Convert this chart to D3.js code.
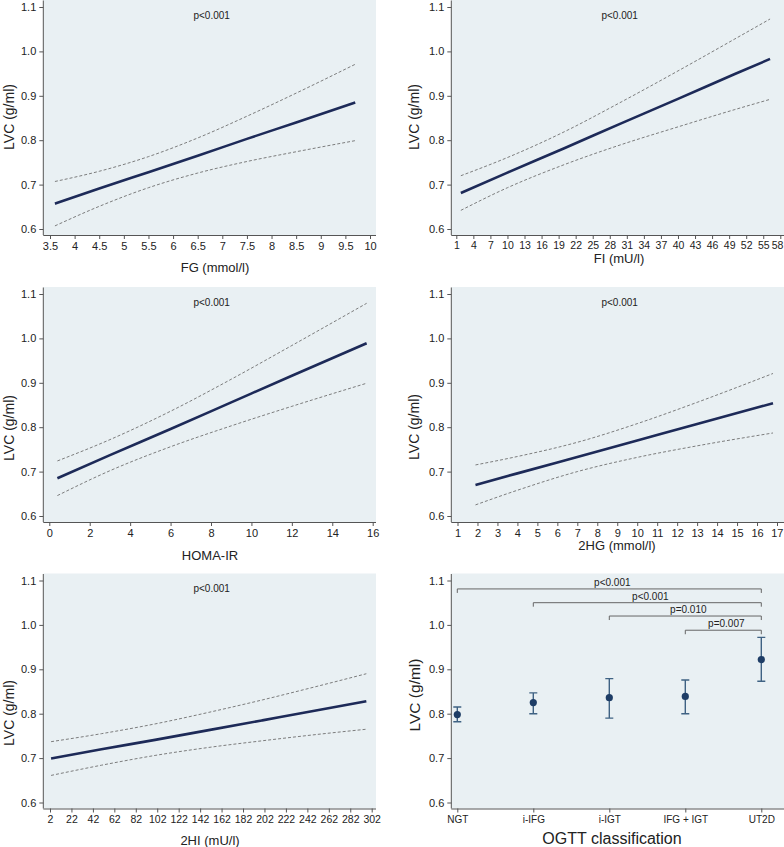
<!DOCTYPE html>
<html>
<head>
<meta charset="utf-8">
<script src="https://cdn.jsdelivr.net/npm/d3@7"></script>
<style>
html,body{margin:0;padding:0;background:#fff;}
svg{display:block;font-family:"Liberation Sans",Arial,sans-serif;}
</style>
</head>
<body>
<svg id="chart" width="784" height="847"></svg>
<script>
// ---------- DATA ----------
const yTicks = [0.6, 0.7, 0.8, 0.9, 1.0, 1.1];

// Panel A: FG (mmol/l)
const fgTicks = [3.5, 4, 4.5, 5, 5.5, 6, 6.5, 7, 7.5, 8, 8.5, 9, 9.5, 10];
const fgX     = [3.6, 4.5, 5.5, 6.5, 7.5, 8.5, 9.7];
const fgFit   = [0.657, 0.691, 0.728, 0.765, 0.803, 0.840, 0.885];
const fgUpper = [0.707, 0.730, 0.763, 0.805, 0.854, 0.906, 0.971];
const fgLower = [0.607, 0.651, 0.693, 0.726, 0.752, 0.774, 0.799];

// Panel B: FI (mU/l)
const fiTicks = [1, 4, 7, 10, 13, 16, 19, 22, 25, 28, 31, 34, 37, 40, 43, 46, 49, 52, 55, 58];
const fiX     = [1.8, 10, 20, 30, 40, 50, 56.2];
const fiFit   = [0.681, 0.727, 0.782, 0.838, 0.893, 0.949, 0.983];
const fiUpper = [0.720, 0.761, 0.819, 0.886, 0.956, 1.028, 1.073];
const fiLower = [0.642, 0.693, 0.745, 0.790, 0.830, 0.869, 0.892];

// Panel C: HOMA-IR
const homaTicks = [0, 2, 4, 6, 8, 10, 12, 14, 16];
const homaX     = [0.4, 3, 6, 9, 12, 15.7];
const homaFit   = [0.685, 0.737, 0.796, 0.856, 0.916, 0.989];
const homaUpper = [0.724, 0.772, 0.836, 0.908, 0.984, 1.079];
const homaLower = [0.646, 0.702, 0.756, 0.803, 0.847, 0.899];

// Panel D: 2HG (mmol/l)
const hgTicks = [1, 2, 3, 4, 5, 6, 7, 8, 9, 10, 11, 12, 13, 14, 15, 16, 17];
const hgX     = [1.9, 4, 7, 10, 13, 16.8];
const hgFit   = [0.670, 0.696, 0.733, 0.770, 0.807, 0.854];
const hgUpper = [0.715, 0.734, 0.766, 0.808, 0.856, 0.921];
const hgLower = [0.625, 0.658, 0.700, 0.732, 0.758, 0.787];

// Panel E: 2HI (mU/l)
const hiTicks = [2, 22, 42, 62, 82, 102, 122, 142, 162, 182, 202, 222, 242, 262, 282, 302];
const hiX     = [3, 50, 100, 150, 200, 250, 297];
const hiFit   = [0.699, 0.720, 0.741, 0.763, 0.785, 0.807, 0.828];
const hiUpper = [0.737, 0.755, 0.777, 0.803, 0.831, 0.861, 0.890];
const hiLower = [0.661, 0.684, 0.706, 0.724, 0.739, 0.753, 0.765];

// Panel F: OGTT classification
const ogttCats  = ["NGT", "i-IFG", "i-IGT", "IFG + IGT", "UT2D"];
const ogttMean  = [0.798, 0.825, 0.836, 0.839, 0.922];
const ogttHigh  = [0.815, 0.847, 0.879, 0.876, 0.972];
const ogttLow   = [0.782, 0.800, 0.790, 0.800, 0.873];
const brFrom    = ["NGT", "i-IFG", "i-IGT", "IFG + IGT"];
const brTo      = ["UT2D", "UT2D", "UT2D", "UT2D"];
const brLevel   = [1.081, 1.050, 1.020, 0.988];
const brLabel   = ["p<0.001", "p<0.001", "p=0.010", "p=0.007"];

const pText = "p<0.001";
const yTitle = "LVC (g/ml)";

// ---------- DRAW ----------
const svg = d3.select("#chart");
const BG = "#e9f0f3";
const AX = "#555";
const TXT = "#222";

function basePanel(cfg) {
  const g = svg.append("g");
  const T = cfg.top;
  g.append("rect").attr("x", cfg.left).attr("y", T)
    .attr("width", cfg.right - cfg.left).attr("height", 235)
    .attr("fill", BG);
  const y = d3.scaleLinear().domain([0.6, 1.1]).range([T + 229, T + 7]);
  const yAxis = d3.axisLeft(y).tickValues(yTicks).tickFormat(d3.format(".1f")).tickSize(4).tickPadding(3);
  const ya = g.append("g").attr("transform", `translate(${cfg.left},0)`).call(yAxis);
  ya.select(".domain").attr("d", `M0,${T + 0.5}V${T + 235}`).attr("stroke", AX);
  ya.selectAll(".tick line").attr("stroke", AX);
  ya.selectAll(".tick text").attr("font-size", 11).attr("fill", TXT).attr("font-family", "Liberation Sans, Arial, sans-serif");
  g.append("text").attr("transform", `translate(${cfg.yTitleX},${cfg.yTitleY}) rotate(-90)`)
    .attr("text-anchor", "middle").attr("dominant-baseline", "central")
    .attr("font-size", cfg.yTitleSize || 14).attr("fill", TXT).text(yTitle);
  return {g, y, T};
}

function xAxisDraw(g, x, T, cfg, ticks, fmt) {
  const xAxis = d3.axisBottom(x).tickSize(4).tickPadding(3);
  if (ticks) xAxis.tickValues(ticks);
  if (fmt) xAxis.tickFormat(fmt);
  const xa = g.append("g").attr("transform", `translate(0,${T + 235})`).call(xAxis);
  xa.select(".domain").attr("d", `M${cfg.left},0.5H${cfg.right}`).attr("stroke", AX);
  xa.selectAll(".tick line").attr("stroke", AX);
  xa.selectAll(".tick text").attr("font-size", cfg.xTickSize || 11).attr("fill", TXT)
    .attr("font-family", "Liberation Sans, Arial, sans-serif");
  // keep the outermost label inside the picture
  xa.selectAll(".tick text").each(function () {
    const bb = this.getBBox();
    const tr = this.parentNode.getAttribute("transform");
    const tx = +tr.match(/translate\(([-\d.]+)/)[1];
    const over = tx + bb.x + bb.width - 783.5;
    if (over > 0) d3.select(this).attr("dx", -over);
  });
  g.append("text").attr("x", cfg.xTitleX).attr("y", cfg.xTitleY)
    .attr("text-anchor", "middle").attr("dominant-baseline", "central")
    .attr("font-size", cfg.xTitleSize || 13).attr("fill", TXT).text(cfg.xTitle);
}

function linePanel(cfg) {
  const {g, y, T} = basePanel(cfg);
  const x = d3.scaleLinear().domain(cfg.xDomain).range(cfg.xRange);
  const line = d3.line().x(d => x(d[0])).y(d => y(d[1])).curve(d3.curveMonotoneX);
  const ci = (arr) => cfg.xs.map((v, i) => [v, arr[i]]);
  g.append("path").attr("d", line(ci(cfg.upper))).attr("fill", "none")
    .attr("stroke", "#6f6f6f").attr("stroke-width", 0.9).attr("stroke-dasharray", "3,2");
  g.append("path").attr("d", line(ci(cfg.lower))).attr("fill", "none")
    .attr("stroke", "#6f6f6f").attr("stroke-width", 0.9).attr("stroke-dasharray", "3,2");
  g.append("path").attr("d", line(ci(cfg.fit))).attr("fill", "none")
    .attr("stroke", "#1d2a58").attr("stroke-width", 2.6);
  g.append("text").attr("x", (cfg.left + cfg.right) / 2 + 2).attr("y", T + 15)
    .attr("text-anchor", "middle").attr("dominant-baseline", "central")
    .attr("font-size", 10).attr("fill", TXT).text(pText);
  xAxisDraw(g, x, T, cfg, cfg.ticks, d3.format(""));
}

const LEFT = {left: 43.3, right: 376, yTitleX: 9};
const RIGHT = {left: 451.3, right: 784, yTitleX: 414};

linePanel(Object.assign({}, LEFT, {top: 0, xDomain: [3.5, 10], xRange: [50, 370],
  xs: fgX, fit: fgFit, upper: fgUpper, lower: fgLower, ticks: fgTicks,
  xTitle: "FG (mmol/l)", xTitleX: 215, xTitleY: 267, yTitleY: 117}));

linePanel(Object.assign({}, RIGHT, {top: 0, xDomain: [1, 58], xRange: [456.3, 780.3],
  xs: fiX, fit: fiFit, upper: fiUpper, lower: fiLower, ticks: fiTicks, xTickSize: 10.5,
  xTitle: "FI (mU/l)", xTitleX: 619, xTitleY: 258, yTitleY: 117}));

linePanel(Object.assign({}, LEFT, {top: 287, xDomain: [0, 16], xRange: [49.3, 372.7],
  xs: homaX, fit: homaFit, upper: homaUpper, lower: homaLower, ticks: homaTicks,
  xTitle: "HOMA-IR", xTitleX: 210, xTitleY: 555, yTitleY: 428}));

linePanel(Object.assign({}, RIGHT, {top: 287, xDomain: [1, 17], xRange: [457.5, 777],
  xs: hgX, fit: hgFit, upper: hgUpper, lower: hgLower, ticks: hgTicks,
  xTitle: "2HG (mmol/l)", xTitleX: 617, xTitleY: 545, yTitleY: 427}));

linePanel(Object.assign({}, LEFT, {top: 573.5, xDomain: [2, 302], xRange: [50, 371.7],
  xs: hiX, fit: hiFit, upper: hiUpper, lower: hiLower, ticks: hiTicks, xTickSize: 10.5,
  xTitle: "2HI (mU/l)", xTitleX: 210, xTitleY: 840, yTitleY: 713}));

// Panel F
(function () {
  const cfg = Object.assign({}, RIGHT, {top: 573.5, yTitleY: 695, yTitleSize: 15.5,
    xTitle: "OGTT classification", xTitleX: 612, xTitleY: 838, xTitleSize: 16, xTickSize: 10});
  const {g, y, T} = basePanel(cfg);
  const x = d3.scalePoint().domain(ogttCats).range([457.3, 761.3]);
  brFrom.forEach((f, i) => {
    const x1 = x(f), x2 = x(brTo[i]), yy = y(brLevel[i]);
    g.append("path").attr("d", `M${x1},${yy + 4}V${yy}H${x2}V${yy + 4}`)
      .attr("fill", "none").attr("stroke", "#666").attr("stroke-width", 1);
    g.append("text").attr("x", (x1 + x2) / 2 + 3).attr("y", yy - 3)
      .attr("text-anchor", "middle").attr("font-size", 10).attr("fill", TXT).text(brLabel[i]);
  });
  ogttCats.forEach((c, i) => {
    const cx = x(c);
    g.append("path")
      .attr("d", `M${cx},${y(ogttLow[i])}V${y(ogttHigh[i])}M${cx - 4},${y(ogttLow[i])}H${cx + 4}M${cx - 4},${y(ogttHigh[i])}H${cx + 4}`)
      .attr("fill", "none").attr("stroke", "#3f6283").attr("stroke-width", 1.4);
    g.append("circle").attr("cx", cx).attr("cy", y(ogttMean[i])).attr("r", 3.6)
      .attr("fill", "#1e3d66");
  });
  xAxisDraw(g, x, T, cfg, null, null);
})();
</script>
</body>
</html>
